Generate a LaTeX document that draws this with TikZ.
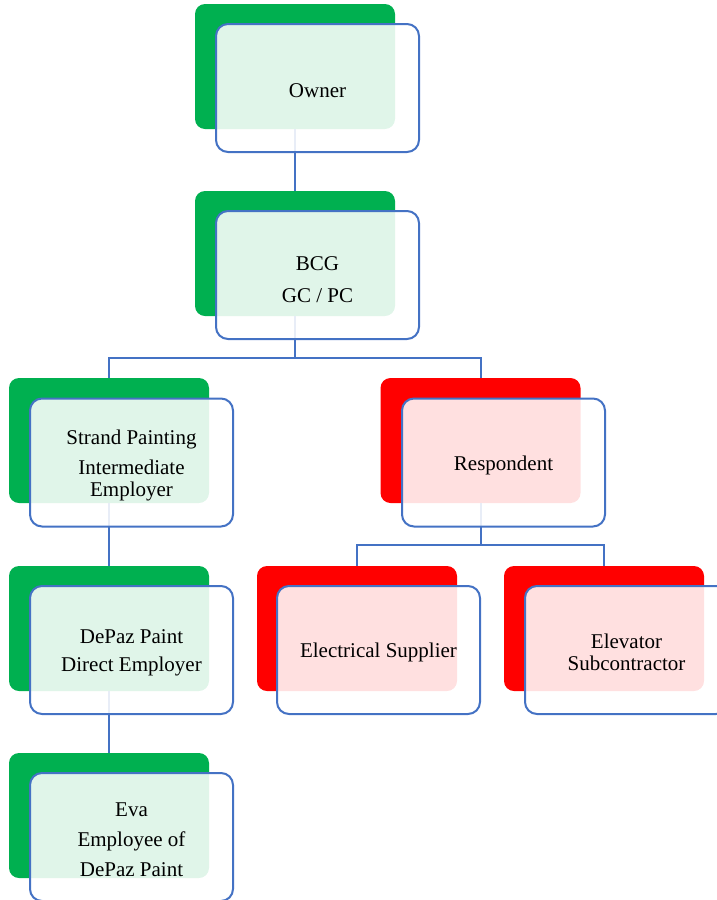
\documentclass[tikz,border=0pt]{standalone}
\usepackage{fontspec}
\setmainfont{Liberation Serif}
\definecolor{gr}{HTML}{00B050}
\definecolor{rd}{HTML}{FF0000}
\definecolor{bl}{HTML}{4472C4}
\begin{document}
\begin{tikzpicture}[x=1pt,y=-1pt,
  back/.style={rectangle,rounded corners=10pt,minimum width=200pt,minimum height=125pt,draw=none,inner sep=0pt},
  gback/.style={back,fill=gr},
  rback/.style={back,fill=rd},
  front/.style={rectangle,rounded corners=12pt,minimum width=203pt,minimum height=128pt,draw=bl,line width=2pt,fill=white,fill opacity=0.88,inner sep=0pt},
  txt/.style={align=center,inner sep=0pt,yshift=-2.5pt,font=\fontsize{21}{22}\selectfont},
  conn/.style={draw=bl,line width=2pt}]
\useasboundingbox (0,0) rectangle (717,900);
\begin{scope}
\clip (0,0) rectangle (717,900);
% connector junctions
\coordinate (j1) at (295,358);
\coordinate (j2) at (480.5,545);
% back shapes
\node[gback] (g1) at (295,66.5) {};
\node[gback] (g2) at (295,253.5) {};
\node[gback] (g3) at (109,440.5) {};
\node[rback] (g4) at (480.5,440.5) {};
\node[gback] (g5) at (109,628.5) {};
\node[rback] (g6) at (357,628.5) {};
\node[rback] (g7) at (604,628.5) {};
\node[gback] (g8) at (109,815.5) {};
% connectors
\draw[conn] (g1.south) -- (g2.north);
\draw[conn] (g2.south) -- (j1);
\draw[conn] (g3.north) |- (j1) -| (g4.north);
\draw[conn] (g3.south) -- (g5.north);
\draw[conn] (g5.south) -- (g8.north);
\draw[conn] (g4.south) -- (j2);
\draw[conn] (g6.north) |- (j2) -| (g7.north);
% front boxes
\node[front] (b1) at (317.5,88) {};
\node[front] (b2) at (317.5,275) {};
\node[front] (b3) at (131.5,462.5) {};
\node[front] (b4) at (503.5,462.5) {};
\node[front] (b5) at (131.5,650) {};
\node[front] (b6) at (378.5,650) {};
\node[front] (b7) at (626.5,650) {};
\node[front] (b8) at (131.5,837) {};
% texts
\node[txt] (t1) at (b1.center) {Owner};
\node[txt] (t2) at ([yshift=-2pt]b2.center) {BCG\\[10pt]GC / PC};
\node[txt] (t3) at (b3.center) {Strand Painting\\[8pt]Intermediate\\Employer};
\node[txt] (t4) at (b4.center) {Respondent};
\node[txt] (t5) at (b5.center) {DePaz Paint\\[6pt]Direct Employer};
\node[txt] (t6) at (b6.center) {Electrical Supplier};
\node[txt] (t7) at (b7.center) {Elevator\\Subcontractor};
\node[txt] (t8) at (b8.center) {Eva\\[8pt]Employee of\\[8pt]DePaz Paint};
\end{scope}
\end{tikzpicture}
\end{document}
